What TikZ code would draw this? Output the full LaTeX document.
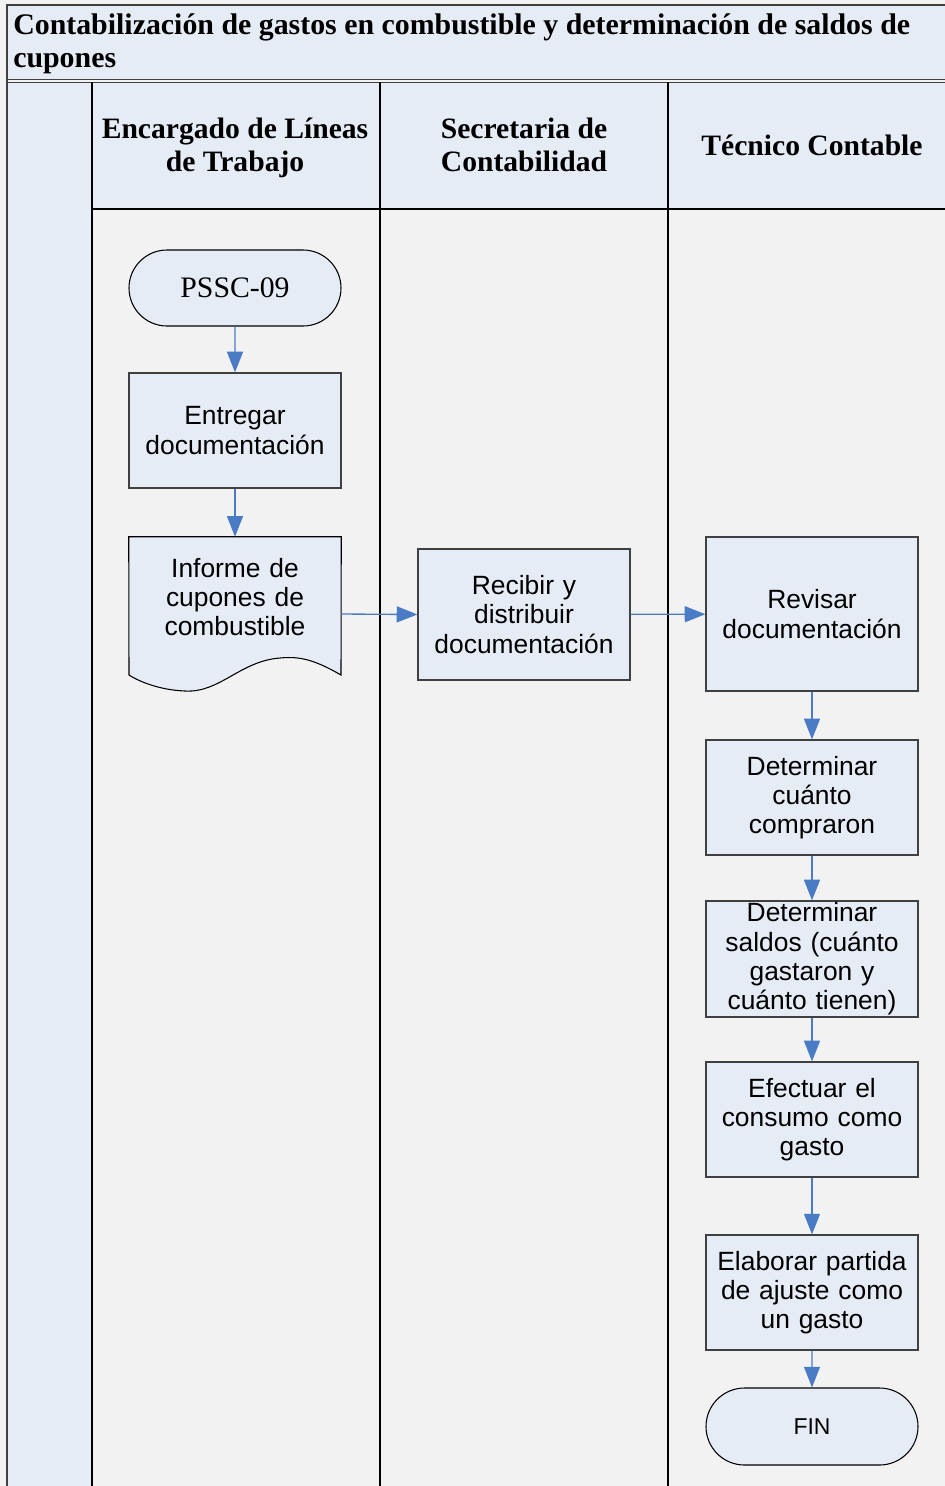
\documentclass[tikz,border=0pt]{standalone}
\usepackage{fontspec}
\setmainfont{Liberation Serif}
\setsansfont{Liberation Sans}
\usetikzlibrary{shapes.misc,arrows.meta}
\definecolor{pagegray}{HTML}{F2F2F2}
\definecolor{paleblue}{HTML}{E6ECF6}
\definecolor{flowblue}{HTML}{4A7CC6}
\definecolor{framegray}{HTML}{404040}
\tikzset{
  procbox/.style={draw=framegray, line width=0.9pt, fill=paleblue, rectangle,
    minimum width=159pt, inner sep=0pt, align=center, text width=150pt,
    font=\sffamily\fontsize{19.8}{22}\selectfont},
  termbox/.style={draw=black, line width=0.8pt, fill=paleblue, rounded rectangle,
    minimum width=159pt, minimum height=57pt, inner sep=0pt, align=center},
  flow/.style={draw=flowblue, line width=1pt,
    -{Triangle[length=15.5pt,width=12pt]}},
  lanehead/.style={align=center, font=\bfseries\fontsize{22.2}{24.75}\selectfont},
  laneline/.style={draw=black, line width=1.3pt}
}
\begin{document}
\begin{tikzpicture}[x=0.75pt,y=-0.75pt]
\useasboundingbox (0,0) rectangle (945,1486);
% page and lane backgrounds
\fill[pagegray] (0,0) rectangle (945,1486);
\fill[paleblue] (7,5) rectangle (945,80);
\fill[paleblue] (7,82) rectangle (92,1486);
\fill[paleblue] (92,82) rectangle (945,209);
% frame of the pool
\draw[framegray, line width=1.5pt] (945,5) -- (7,5) -- (7,1486);
\draw[framegray, line width=1.2pt] (7,79.5) -- (945,79.5);
\draw[framegray, line width=1.2pt] (7,82.5) -- (945,82.5);
% lane separators
\draw[laneline] (92,82) -- (92,1486);
\draw[laneline] (380,82) -- (380,1486);
\draw[laneline] (668,82) -- (668,1486);
\draw[laneline] (92,209) -- (945,209);
% title and lane headers
\node[anchor=north west, align=left, inner sep=0pt,
  font=\bfseries\fontsize{22.4}{24.75}\selectfont] (title) at (13,13)
  {Contabilización de gastos en combustible y determinación de saldos de\\cupones};
\node[lanehead] (h1) at (235,148) {Encargado de Líneas\\de Trabajo};
\node[lanehead] (h2) at (524,145) {Secretaria de\\Contabilidad};
\node[lanehead] (h3) at (812,145) {Técnico Contable};
% first lane
\node[termbox, font=\fontsize{22.3}{24}\selectfont] (start) at (235,288) {PSSC-09};
\node[procbox, minimum height=86.25pt] (entregar) at (235,430.5) {Entregar\\documentación};
\node[minimum width=159pt, minimum height=115.5pt, inner sep=0pt] (informe) at (235,614) {};
\draw[draw=black, line width=0.8pt, fill=paleblue]
  (informe.north west) -- (informe.north east) -- (341,675)
  .. controls (315,660) and (300,656) .. (280,658)
  .. controls (240,661) and (220,693) .. (185,691)
  .. controls (160,690) and (140,682) .. (129,675) -- cycle;
\node[align=center, text width=150pt, inner sep=0pt,
  font=\sffamily\fontsize{19.8}{22}\selectfont] (informetxt) at (235,597)
  {Informe de\\cupones de\\combustible};
% second lane
\node[procbox, minimum height=98.25pt] (recibir) at (524,614.5) {Recibir y\\distribuir\\documentación};
% third lane
\node[procbox, minimum height=115.5pt] (revisar) at (812,614) {Revisar\\documentación};
\node[procbox, minimum height=86.25pt] (compraron) at (812,797.5) {Determinar\\cuánto\\compraron};
\node[procbox, minimum height=87pt] (saldos) at (812,959) {Determinar\\saldos (cuánto\\gastaron y\\cuánto tienen)};
\node[procbox, minimum height=86.25pt] (efectuar) at (812,1119.5) {Efectuar el\\consumo como\\gasto};
\node[procbox, minimum height=86.25pt] (elaborar) at (812,1292.5) {Elaborar partida\\de ajuste como\\un gasto};
\node[termbox, minimum height=57.75pt, font=\sffamily\fontsize{17.2}{20}\selectfont] (fin) at (812,1426.5) {FIN};
% connectors
\draw[flow] (start) -- (entregar);
\draw[flow] (entregar) -- (informe.north);
\draw[flow] (informe.east) -- (recibir.west);
\draw[flow] (recibir) -- (revisar);
\draw[flow] (revisar) -- (compraron);
\draw[flow] (compraron) -- (saldos);
\draw[flow] (saldos) -- (efectuar);
\draw[flow] (efectuar) -- (elaborar);
\draw[flow] (elaborar) -- (fin);
\end{tikzpicture}
\end{document}
